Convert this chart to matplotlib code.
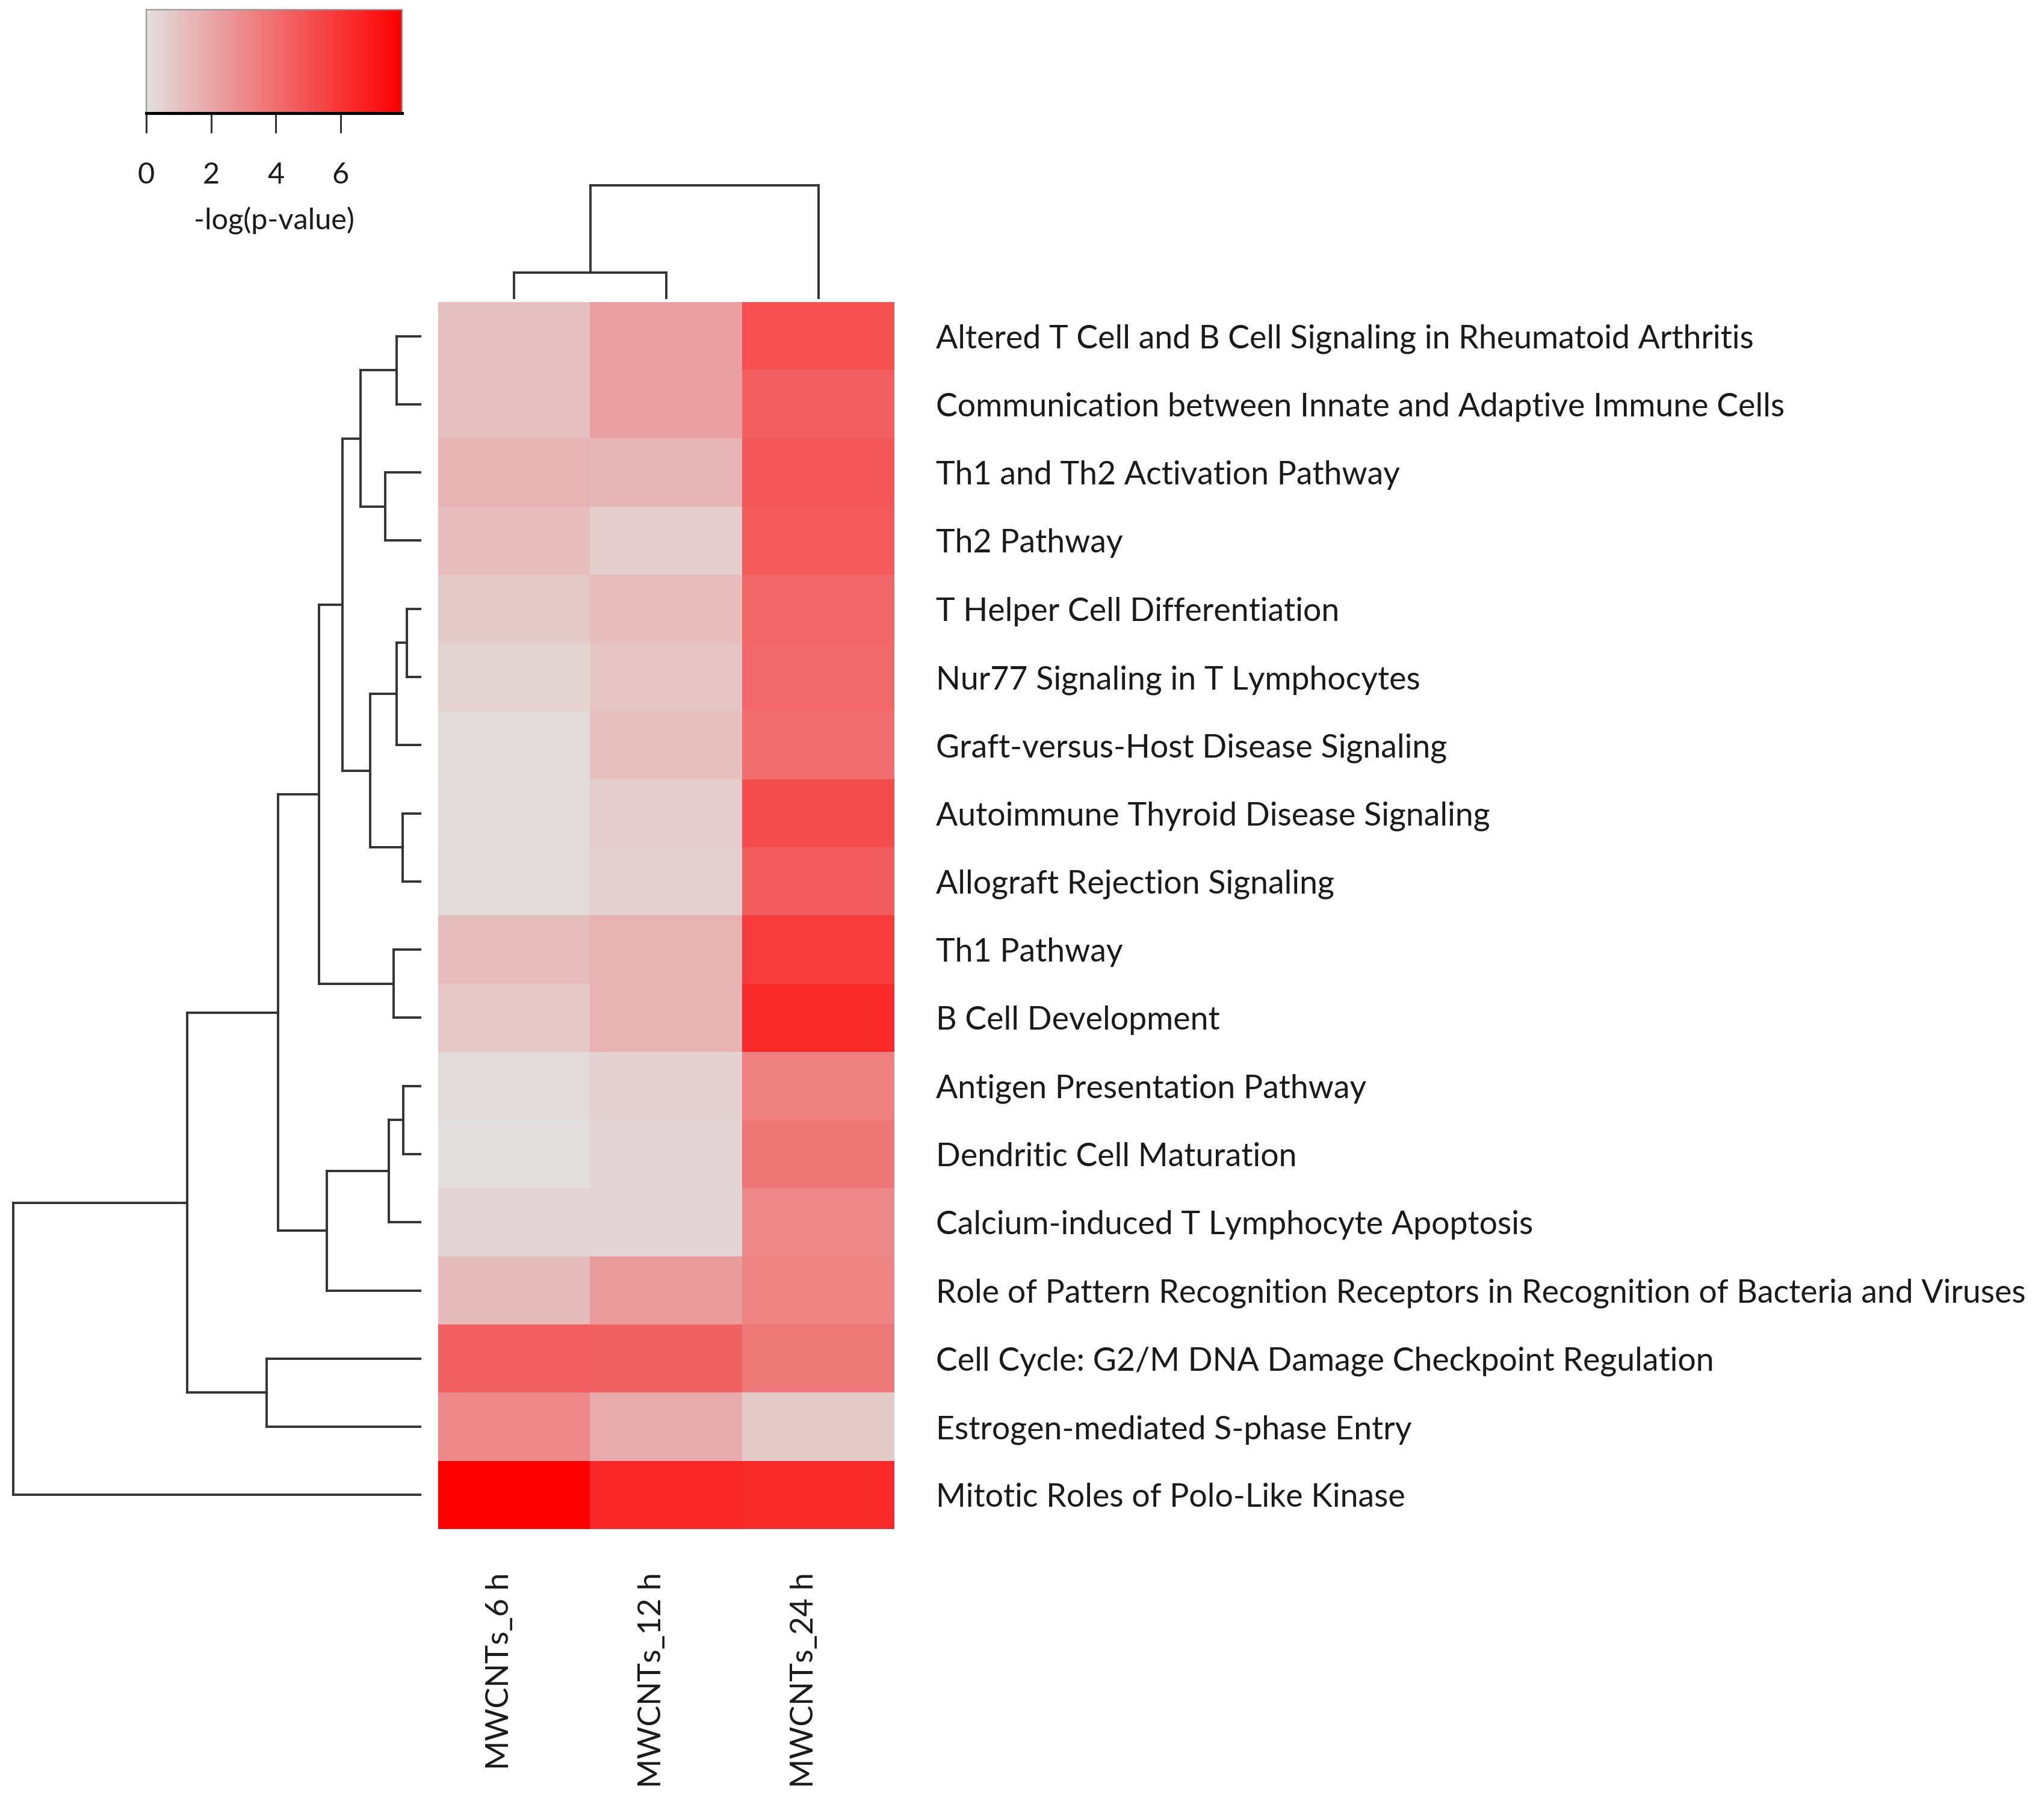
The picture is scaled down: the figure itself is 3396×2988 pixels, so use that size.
import numpy as np
import matplotlib
matplotlib.use("Agg")
import matplotlib.pyplot as plt
from matplotlib.colors import LinearSegmentedColormap

# ---------------- data ----------------
pathways = [
    "Altered T Cell and B Cell Signaling in Rheumatoid Arthritis",
    "Communication between Innate and Adaptive Immune Cells",
    "Th1 and Th2 Activation Pathway",
    "Th2 Pathway",
    "T Helper Cell Differentiation",
    "Nur77 Signaling in T Lymphocytes",
    "Graft-versus-Host Disease Signaling",
    "Autoimmune Thyroid Disease Signaling",
    "Allograft Rejection Signaling",
    "Th1 Pathway",
    "B Cell Development",
    "Antigen Presentation Pathway",
    "Dendritic Cell Maturation",
    "Calcium-induced T Lymphocyte Apoptosis",
    "Role of Pattern Recognition Receptors in Recognition of Bacteria and Viruses",
    "Cell Cycle: G2/M DNA Damage Checkpoint Regulation",
    "Estrogen-mediated S-phase Entry",
    "Mitotic Roles of Polo-Like Kinase",
]
samples = ["MWCNTs_6 h", "MWCNTs_12 h", "MWCNTs_24 h"]

logp_6h = [1.07, 1.07, 1.6, 1.2, 0.78, 0.43, 0.2, 0.18, 0.14, 1.2, 0.85,
           0.2, 0.0, 0.36, 1.28, 4.5, 3.06, 7.9]
logp_12h = [2.2, 2.2, 1.46, 0.64, 1.2, 0.93, 1.14, 0.64, 0.5, 1.6, 1.6,
            0.5, 0.36, 0.36, 2.35, 4.4, 1.85, 6.5]
logp_24h = [5.05, 4.5, 4.8, 4.7, 4.27, 4.2, 4.0, 5.2, 4.6, 5.75, 6.4,
            3.35, 3.7, 3.06, 3.27, 3.6, 0.78, 6.4]

# hierarchical merges (child_a, child_b, height); ids >= n are earlier merges
row_merges = [
    (0, 1, 0.41), (2, 3, 0.60), (18, 19, 1.01), (4, 5, 0.24), (21, 6, 0.41),
    (7, 8, 0.31), (22, 23, 0.85), (20, 24, 1.31), (9, 10, 0.46), (25, 26, 1.70),
    (11, 12, 0.30), (28, 13, 0.54), (29, 14, 1.57), (27, 30, 2.38),
    (15, 16, 2.57), (31, 32, 3.89), (33, 17, 6.78),
]
col_merges = [(0, 1, 0.44), (3, 2, 1.89)]

cbar_ticks = [0, 2, 4, 6]
vmax = 7.9
cbar_label = "-log(p-value)"

# ---------------- style ----------------
plt.rcParams["font.family"] = ["Lato", "DejaVu Sans"]
W, H = 3396, 2988
DPI = 200
fig = plt.figure(figsize=(W / DPI, H / DPI), dpi=DPI)

cmap = LinearSegmentedColormap.from_list("greyred", ["#E2DFDF", "#FF0000"])
line_col = "#333333"
lw = 1.4
txt_col = "#1a1a1a"


def fx(px):
    return px / W


def fy(py):
    return 1 - py / H


def dendro_segments(n, merges):
    pos = {i: i + 0.5 for i in range(n)}
    hgt = {i: 0.0 for i in range(n)}
    segs = []
    for k, (a, b, h) in enumerate(merges):
        for c in (a, b):
            segs.append(((pos[c], hgt[c]), (pos[c], h)))
        segs.append(((pos[a], h), (pos[b], h)))
        pos[n + k] = (pos[a] + pos[b]) / 2
        hgt[n + k] = h
    return segs


data = np.array([logp_6h, logp_12h, logp_24h]).T
nrow, ncol = data.shape

# heatmap
hx0, hx1, hy0, hy1 = 728, 1486, 502, 2541
ax = fig.add_axes([fx(hx0), fy(hy1), fx(hx1 - hx0), (hy1 - hy0) / H])
ax.imshow(data, cmap=cmap, vmin=0, vmax=vmax, aspect="auto",
          interpolation="nearest", extent=(0, ncol, nrow, 0))
ax.set_xlim(0, ncol)
ax.set_ylim(nrow, 0)
for s in ax.spines.values():
    s.set_visible(False)
ax.yaxis.tick_right()
ax.set_yticks(np.arange(nrow) + 0.5)
ax.set_yticklabels(pathways, fontsize=19.3, color=txt_col)
ax.tick_params(axis="y", length=0, pad=25)
ax.set_xticks(np.arange(ncol) + 0.5)
ax.set_xticklabels(samples, fontsize=18.8, rotation=90, ha="right", va="top",
                   color=txt_col)
ax.tick_params(axis="x", length=0, pad=26)

# row dendrogram
axr = fig.add_axes([0, fy(hy1), fx(700), (hy1 - hy0) / H])
for (p0, h0), (p1, h1) in dendro_segments(nrow, row_merges):
    axr.plot([h0, h1], [p0, p1], color=line_col, lw=lw, solid_capstyle="projecting")
axr.set_xlim(7.0, 0)
axr.set_ylim(nrow, 0)
axr.axis("off")

# column dendrogram
axc = fig.add_axes([fx(hx0), fy(497), fx(hx1 - hx0), (497 - 300) / H])
for (p0, h0), (p1, h1) in dendro_segments(ncol, col_merges):
    axc.plot([p0, p1], [h0, h1], color=line_col, lw=lw, solid_capstyle="projecting")
axc.set_xlim(0, ncol)
axc.set_ylim(0, 1.97)
axc.axis("off")

# colour key
cax = fig.add_axes([fx(243), fy(188), fx(668 - 243), (188 - 16) / H])
cax.imshow(np.linspace(0, vmax, 512)[None, :], cmap=cmap, vmin=0, vmax=vmax,
           aspect="auto", extent=(0, vmax, 0, 1))
cax.set_xlim(0, vmax)
cax.set_ylim(0, 1)
cax.set_yticks([])
cax.set_xticks(cbar_ticks)
cax.set_xticklabels([str(t) for t in cbar_ticks], fontsize=17.5, color=txt_col)
cax.tick_params(axis="x", length=12, width=1.1, color="#333333", pad=17)
for name, s in cax.spines.items():
    s.set_color("#9a9a9a")
    s.set_linewidth(0.8)
cax.spines["bottom"].set_color("black")
cax.spines["bottom"].set_linewidth(1.8)
fig.text(fx(455), fy(367), cbar_label, ha="center", va="center", fontsize=17.5,
         color=txt_col)

fig.savefig("out.png", dpi=DPI, facecolor="white")
